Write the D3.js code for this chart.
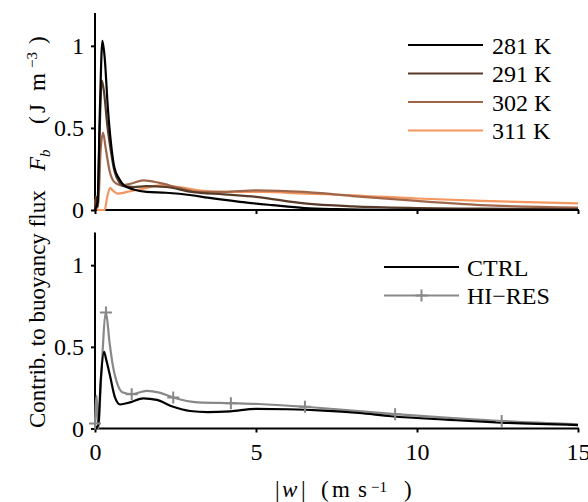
<!DOCTYPE html>
<html><head><meta charset="utf-8">
<script src="https://cdn.jsdelivr.net/npm/d3@7"></script>
<style>body{margin:0;background:#fff}svg{display:block}text{font-family:"Liberation Serif","Times New Roman",serif;fill:#000}</style>
</head><body>
<svg id="c" width="588" height="502"></svg>
<script>
// ---------- data ----------
const xTicks = [0, 5, 10, 15];
const xTickLabels = ["0", "5", "10", "15"];
const yTicks = [0, 0.5, 1];
const yTickLabels = ["0", "0.5", "1"];

const tempLabels = ["281 K", "291 K", "302 K", "311 K"];
const tempColors = ["#000000", "#573a27", "#a0664a", "#f4975e"];

const w281 = [0, 0.08, 0.15, 0.23, 0.3, 0.4, 0.5, 0.6, 0.75, 0.9, 1.2, 1.6, 2.2, 3.0, 3.5, 4.5, 5.5, 6.5, 7.5, 9, 15];
const f281 = [0, 0.05, 0.6, 1.03, 0.93, 0.62, 0.40, 0.26, 0.19, 0.15, 0.125, 0.11, 0.105, 0.09, 0.075, 0.05, 0.03, 0.012, 0.005, 0.001, 0];

const w291 = [0, 0.03, 0.08, 0.14, 0.21, 0.28, 0.38, 0.5, 0.6, 0.75, 0.9, 1.2, 1.6, 2.2, 3.0, 4.0, 5.0, 6.5, 8.0, 10, 12, 15];
const f291 = [0, 0.08, 0.02, 0.45, 0.79, 0.72, 0.52, 0.35, 0.24, 0.17, 0.145, 0.14, 0.145, 0.14, 0.11, 0.095, 0.08, 0.04, 0.022, 0.012, 0.008, 0.005];

const w302 = [0, 0.03, 0.1, 0.17, 0.25, 0.33, 0.45, 0.6, 0.8, 1.1, 1.5, 2.0, 2.6, 3.2, 4.0, 5.0, 6.5, 8.0, 10, 12, 15];
const f302 = [0, 0.08, 0.02, 0.35, 0.47, 0.38, 0.24, 0.17, 0.15, 0.16, 0.18, 0.165, 0.135, 0.11, 0.11, 0.12, 0.11, 0.085, 0.055, 0.03, 0.015];

const w311 = [0, 0.03, 0.08, 0.3, 0.38, 0.47, 0.55, 0.7, 1.0, 1.5, 2.0, 2.6, 3.2, 4.0, 5.2, 6.5, 8.0, 10, 12, 15];
const f311 = [0, 0.08, 0, 0, 0.08, 0.135, 0.12, 0.10, 0.11, 0.13, 0.15, 0.14, 0.12, 0.11, 0.11, 0.10, 0.09, 0.07, 0.055, 0.04];

const resLabels = ["CTRL", "HI\u2212RES"];
const resColors = ["#000000", "#888888"];

const wCtrl = [0, 0.1, 0.18, 0.28, 0.35, 0.47, 0.62, 0.78, 1.09, 1.5, 1.92, 2.43, 2.95, 3.5, 4.2, 5.0, 6.0, 7.1, 8.2, 9.2, 11, 12.6, 15];
const fCtrl = [0, 0.02, 0.3, 0.47, 0.42, 0.32, 0.19, 0.147, 0.16, 0.185, 0.175, 0.133, 0.107, 0.1, 0.105, 0.12, 0.118, 0.11, 0.095, 0.075, 0.053, 0.036, 0.021];

const wHires = [0, 0.05, 0.1, 0.2, 0.34, 0.45, 0.55, 0.72, 0.87, 1.14, 1.6, 2.0, 2.43, 3.2, 4.22, 5.1, 6.52, 8.0, 9.32, 11.0, 12.63, 15];
const fHires = [0.03, 0.2, 0, 0.35, 0.71, 0.53, 0.39, 0.26, 0.22, 0.21, 0.23, 0.22, 0.19, 0.16, 0.155, 0.15, 0.133, 0.11, 0.088, 0.065, 0.046, 0.026];
const hiresMarkerIdx = [0, 4, 9, 12, 14, 16, 18, 20];

// ---------- drawing ----------
const svg = d3.select("#c");
const FS = 24;
const x = d3.scaleLinear().domain([0, 15]).range([95, 578]);
const yTop = d3.scaleLinear().domain([0, 1.2]).range([210, 13]);
const yBot = d3.scaleLinear().domain([0, 1.2]).range([428.5, 232.5]);

function zip(ws, fs) { return ws.map((w, i) => [w, fs[i]]); }

function panel(y, showXLabels) {
  const g = svg.append("g");
  const ya = d3.axisLeft(y).tickValues(yTicks).tickFormat((d, i) => yTickLabels[i]).tickSize(4).tickPadding(7);
  const gy = g.append("g").attr("transform", `translate(${x(0)},0)`).call(ya);
  gy.select(".domain").remove();
  gy.selectAll(".tick line").attr("stroke", "#000").attr("stroke-width", 2);
  gy.selectAll(".tick text").style("font-size", FS + "px").attr("font-family", "Liberation Serif");
  g.append("line").attr("x1", x(0)).attr("x2", x(0)).attr("y1", y.range()[1]).attr("y2", y(0) + 1)
    .attr("stroke", "#000").attr("stroke-width", 2);
  const xa = d3.axisBottom(x).tickValues(xTicks).tickFormat((d, i) => showXLabels ? xTickLabels[i] : "").tickSize(4).tickPadding(10);
  const gx = g.append("g").attr("transform", `translate(0,${y(0)})`).call(xa);
  gx.select(".domain").remove();
  gx.selectAll(".tick line").attr("stroke", "#000").attr("stroke-width", 2);
  gx.selectAll(".tick text").style("font-size", FS + "px").attr("font-family", "Liberation Serif");
  g.append("line").attr("x1", x(0) - 1).attr("x2", x(15) + 1).attr("y1", y(0)).attr("y2", y(0))
    .attr("stroke", "#000").attr("stroke-width", 2);
  return g;
}

panel(yTop, false);
panel(yBot, true);

const lineT = d3.line().x(d => x(d[0])).y(d => yTop(d[1])).curve(d3.curveMonotoneX);
const lineB = d3.line().x(d => x(d[0])).y(d => yBot(d[1])).curve(d3.curveMonotoneX);

const topSeries = [zip(w281, f281), zip(w291, f291), zip(w302, f302), zip(w311, f311)];
[3, 2, 1, 0].forEach(i => {
  svg.append("path").attr("d", lineT(topSeries[i])).attr("fill", "none")
    .attr("stroke", tempColors[i]).attr("stroke-width", 2.2).attr("stroke-linejoin", "round");
});

const hires = zip(wHires, fHires);
const ctrl = zip(wCtrl, fCtrl);
svg.append("path").attr("d", lineB(hires)).attr("fill", "none").attr("stroke", resColors[1]).attr("stroke-width", 2.2);
svg.append("path").attr("d", lineB(ctrl)).attr("fill", "none").attr("stroke", resColors[0]).attr("stroke-width", 2.2);

function plus(sel, cx, cy, col) {
  const s = 6;
  sel.append("path").attr("d", `M${cx - s},${cy}H${cx + s}M${cx},${cy - s}V${cy + s}`)
    .attr("stroke", col).attr("stroke-width", 2).attr("fill", "none");
}
hiresMarkerIdx.forEach(i => plus(svg, x(hires[i][0]), yBot(hires[i][1]), resColors[1]));

// legends
const legT = svg.append("g");
tempLabels.forEach((t, i) => {
  const ly = 45 + i * 28.5;
  legT.append("line").attr("x1", 408).attr("x2", 483).attr("y1", ly).attr("y2", ly)
    .attr("stroke", tempColors[i]).attr("stroke-width", 2.2);
  legT.append("text").attr("x", 492).attr("y", ly + 8.5).style("font-size", FS + "px").text(t);
});
const legB = svg.append("g");
resLabels.forEach((t, i) => {
  const ly = 267 + i * 28.5;
  legB.append("line").attr("x1", 384).attr("x2", 459).attr("y1", ly).attr("y2", ly)
    .attr("stroke", resColors[i]).attr("stroke-width", 2.2);
  if (i === 1) plus(legB, 421.5, ly, resColors[i]);
  legB.append("text").attr("x", 467).attr("y", ly + 8.5).style("font-size", FS + "px").text(t);
});

// x label (math-style, spaced pieces)
const xl = svg.append("g");
const xparts = [
  {t: "|", x: 275}, {t: "w", x: 282, it: true}, {t: "|", x: 301},
  {t: "(", x: 321}, {t: "m", x: 332}, {t: "s", x: 358},
  {t: "\u22121", x: 371, sup: true}, {t: ")", x: 404}
];
xparts.forEach(p => {
  xl.append("text").attr("x", p.x).attr("y", p.sup ? 492 : 497)
    .attr("font-style", p.it ? "italic" : null)
    .style("font-size", p.sup ? "15px" : "23px").text(p.t);
});

// y label (rotated)
const yl = svg.append("g").attr("transform", "translate(45,428) rotate(-90)");
const yparts = [
  {t: "Contrib. to buoyancy flux", x: 0}, {t: "F", x: 257, it: true},
  {t: "b", x: 271, it: true, sub: true}, {t: "(", x: 304}, {t: "J", x: 315},
  {t: "m", x: 337}, {t: "\u22123", x: 360, sup: true}, {t: ")", x: 384}
];
yparts.forEach(p => {
  yl.append("text").attr("x", p.x).attr("y", p.sub ? 5 : (p.sup ? -8 : 0))
    .attr("font-style", p.it ? "italic" : null)
    .style("font-size", (p.sub || p.sup) ? "15px" : "23px").text(p.t);
});
</script>
</body></html>
